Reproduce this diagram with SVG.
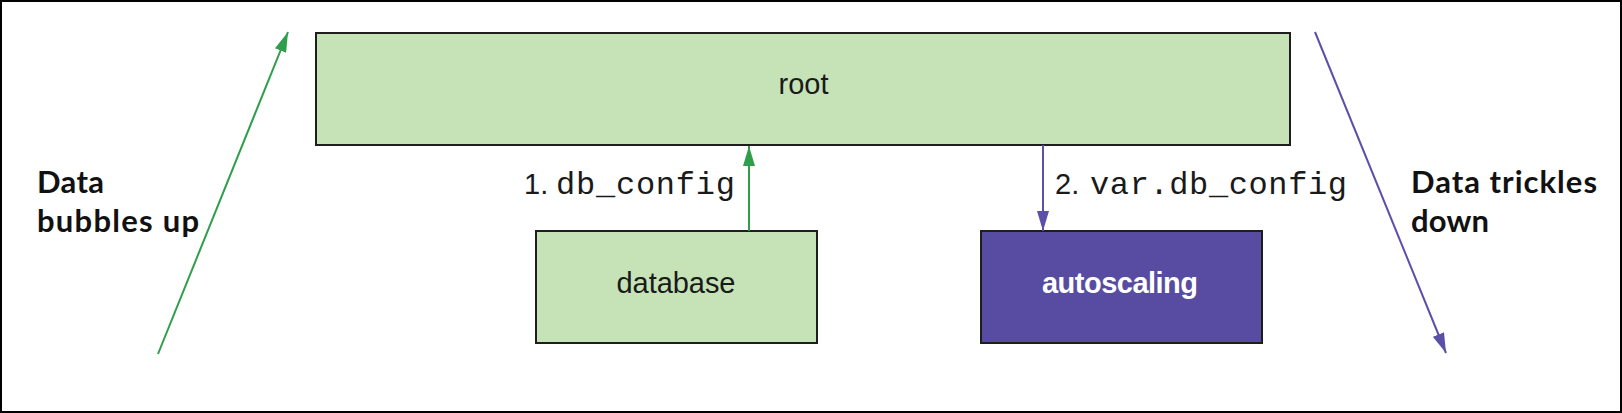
<svg xmlns="http://www.w3.org/2000/svg" width="1622" height="413" viewBox="0 0 1622 413">
<style>
.box{stroke:#1e1e1e;stroke-width:2}
.green{fill:#c6e3b8}
.purple{fill:#574ca1}
.sans{font-family:"Liberation Sans",Arial,sans-serif;font-size:29px;fill:#1a1a1a}
.white{fill:#ffffff;font-weight:bold}
.mono{font-family:"Liberation Mono","Courier New",monospace;font-size:32px;fill:#1a1a1a}
.bold{font-family:Lato,"Liberation Sans",sans-serif;font-weight:700;font-size:31px;fill:#111111}
.gline{stroke:#2f9e4a;stroke-width:2;fill:none}
.pline{stroke:#5b50a8;stroke-width:2;fill:none}
</style>
<defs>
<marker id="ag" markerUnits="userSpaceOnUse" markerWidth="20" markerHeight="12" refX="20" refY="6" orient="auto"><path d="M0,0 L20,6 L0,12 z" fill="#2f9e4a"/></marker>
<marker id="ap" markerUnits="userSpaceOnUse" markerWidth="20" markerHeight="12" refX="20" refY="6" orient="auto"><path d="M0,0 L20,6 L0,12 z" fill="#5b50a8"/></marker>
</defs>
<rect x="1" y="1" width="1620" height="411" fill="#ffffff" stroke="#000000" stroke-width="2"/>
<g id="root">
<rect class="box green" x="316" y="33" width="974" height="112"/>
<text class="sans" x="803.5" y="94" text-anchor="middle">root</text>
</g>
<g id="database">
<rect class="box green" x="536" y="231" width="281" height="112"/>
<text class="sans" x="676" y="293" text-anchor="middle" textLength="119">database</text>
</g>
<g id="autoscaling">
<rect class="box purple" x="981" y="231" width="281" height="112"/>
<text class="sans white" x="1120" y="293" text-anchor="middle" textLength="156">autoscaling</text>
</g>
<g id="connectors">
<line class="gline" x1="158" y1="354" x2="288" y2="32" marker-end="url(#ag)"/>
<line class="pline" x1="1315" y1="32" x2="1446" y2="353" marker-end="url(#ap)"/>
<line class="gline" x1="749" y1="231" x2="749" y2="146" marker-end="url(#ag)"/>
<line class="pline" x1="1043" y1="145" x2="1043" y2="231" marker-end="url(#ap)"/>
</g>
<g id="labels">
<text class="sans" x="524" y="194">1.</text>
<text class="mono" x="556" y="194" textLength="179">db_config</text>
<text class="sans" x="1055" y="194">2.</text>
<text class="mono" x="1090" y="194" textLength="257">var.db_config</text>
<text class="bold" x="37" y="193" textLength="67">Data</text>
<text class="bold" x="37" y="232" textLength="162">bubbles up</text>
<text class="bold" x="1411" y="193" textLength="186">Data trickles</text>
<text class="bold" x="1411" y="232" textLength="78">down</text>
</g>
</svg>
